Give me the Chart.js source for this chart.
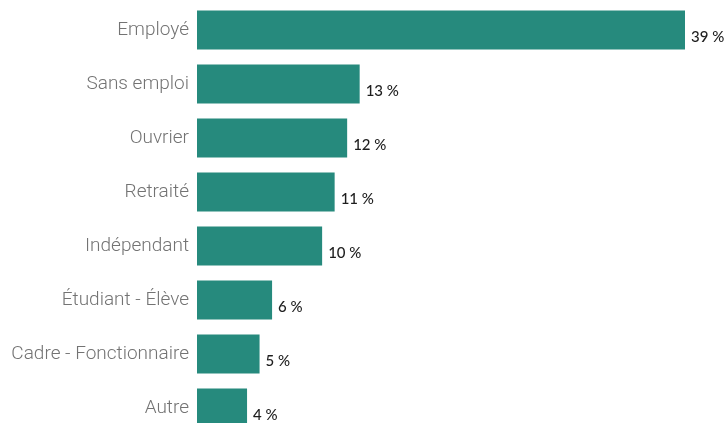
<!DOCTYPE html>
<html>
<head>
<meta charset="utf-8">
<script src="https://cdn.jsdelivr.net/npm/chart.js@4"></script>
<style>
  html, body { margin: 0; padding: 0; background: #ffffff; overflow: hidden; }
  #wrap { position: relative; width: 726px; height: 435px; }
</style>
</head>
<body>
<div id="wrap"><canvas id="chart"></canvas></div>
<script>
// Répartition par catégorie socioprofessionnelle (en %)
const categories = [
  'Employé', 'Sans emploi', 'Ouvrier', 'Retraité',
  'Indépendant', 'Étudiant - Élève', 'Cadre - Fonctionnaire', 'Autre'
];
const shares = [39, 13, 12, 11, 10, 6, 5, 4];

const barColor = '#268a7d';

// Value labels written just after the end of each bar
const valueLabels = {
  id: 'valueLabels',
  afterDatasetsDraw(chart) {
    const ctx = chart.ctx;
    const meta = chart.getDatasetMeta(0);
    ctx.save();
    ctx.font = '500 15px Lato, "Open Sans", sans-serif';
    ctx.fillStyle = '#1e1e1e';
    ctx.textAlign = 'left';
    ctx.textBaseline = 'middle';
    meta.data.forEach((bar, i) => {
      const v = chart.data.datasets[0].data[i];
      ctx.fillText(v + ' %', bar.x + 6, bar.y + 7);
    });
    ctx.restore();
  }
};

new Chart(document.getElementById('chart'), {
  type: 'bar',
  data: {
    labels: categories,
    datasets: [{
      data: shares,
      backgroundColor: barColor,
      borderWidth: 0,
      categoryPercentage: 1,
      barPercentage: 0.72
    }]
  },
  options: {
    indexAxis: 'y',
    responsive: true,
    maintainAspectRatio: false,
    animation: false,
    layout: { padding: { top: 3, right: 41, bottom: 0, left: 0 } },
    plugins: {
      legend: { display: false },
      tooltip: { enabled: false }
    },
    scales: {
      x: {
        display: false,
        min: 0,
        max: 39
      },
      y: {
        grid: { display: false, drawTicks: false, tickLength: 0 },
        border: { display: false },
        ticks: {
          color: '#737373',
          padding: 8,
          font: { family: 'Roboto', size: 19, weight: 300 }
        },
        // fixed label column; no extra room reserved above/below the bars
        afterFit(scale) {
          scale.width = 197;
          scale.paddingTop = 0;
          scale.paddingBottom = 0;
        }
      }
    }
  },
  plugins: [valueLabels]
});
</script>
</body>
</html>
